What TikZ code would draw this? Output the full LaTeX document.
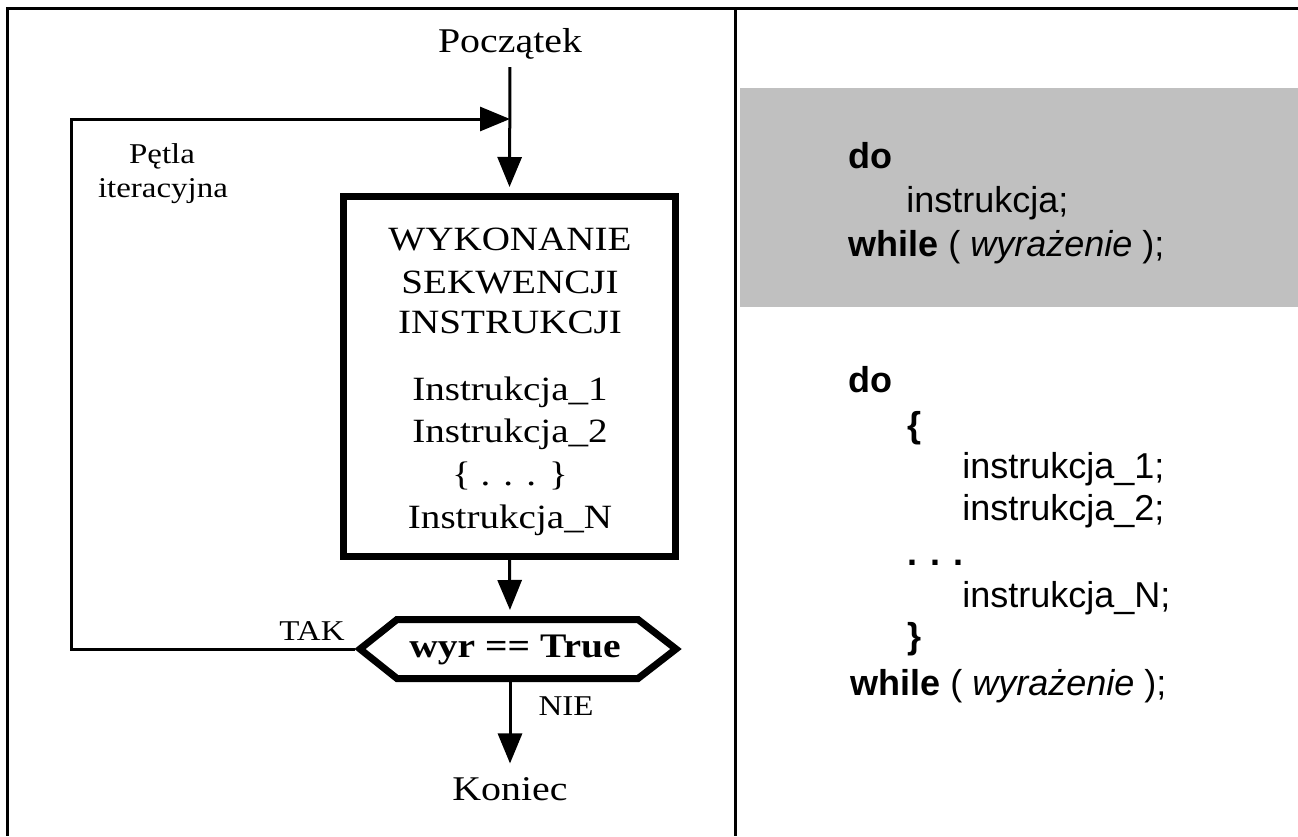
\documentclass[tikz,border=0pt]{standalone}
\usepackage{fontspec}
\setmainfont{Liberation Serif}
\newfontfamily\arialf{Liberation Sans}
\usepackage{graphicx}
\usetikzlibrary{arrows.meta}
\definecolor{codebg}{HTML}{C0C0C0}
\newcommand{\stretchx}[1]{\scalebox{1.15}[1]{#1}}
\tikzset{
  lbl/.style={anchor=base, inner sep=0pt, font=\fontsize{26}{30}\selectfont},
  boxtxt/.style={anchor=base, inner sep=0pt, font=\fontsize{25.5}{30}\selectfont},
  smalllbl/.style={anchor=base, inner sep=0pt, font=\fontsize{21.5}{26}\selectfont},
  code/.style={anchor=base west, inner sep=0pt, font=\arialf\fontsize{27}{31}\selectfont},
  conn/.style={line width=2.25pt, line join=miter, -{Triangle[length=22.5pt,width=18pt]}},
  frameline/.style={line width=2.25pt},
  bigbox/.style={draw, line width=5.25pt, minimum width=249pt, minimum height=270pt, inner sep=0pt},
  hexline/.style={line width=5.25pt, line join=miter},
}
\begin{document}
\begin{tikzpicture}[x=0.75pt,y=-0.75pt]
\useasboundingbox (0,0) rectangle (1298,836);
% grey code background
\fill[codebg] (740,88) rectangle (1298,307);
% frame
\draw[frameline] (1298,8) -- (7,8) -- (7,836);
\draw[frameline] (735,8) -- (735,836);

% flowchart
\node[lbl] (start) at (510,52) {\stretchx{Początek}};
\node[bigbox] (box) at (509.5,376.5) {};
\draw[conn, shorten <=6pt, shorten >=4.5pt] (start.south) -- (box.north);

\node[boxtxt] (t1) at (510,250) {\stretchx{WYKONANIE}};
\node[boxtxt] (t2) at (510,293) {\stretchx{SEKWENCJI}};
\node[boxtxt] (t3) at (510,333) {\stretchx{INSTRUKCJI}};
\node[boxtxt] (t4) at (510,400) {\stretchx{Instrukcja\_1}};
\node[boxtxt] (t5) at (510,442) {\stretchx{Instrukcja\_2}};
\node[boxtxt] (t6) at (510,485) {\stretchx{\{ . . . \}}};
\node[boxtxt] (t7) at (510,528) {\stretchx{Instrukcja\_N}};

% decision hexagon
\draw[hexline] (360,649) -- (397,619.5) -- (638,619.5) -- (676,649) -- (638,678.5) -- (397,678.5) -- cycle;
\coordinate (hexN) at (510,616);
\coordinate (hexS) at (510,682);
\coordinate (hexW) at (355,649);
\node[anchor=base, inner sep=0pt, font=\bfseries\fontsize{25.8}{30}\selectfont] (cond) at (515,657) {\stretchx{wyr == True}};
\draw[conn, shorten >=4.5pt] (box.south) -- (hexN);

% loop
\coordinate (loopBL) at (71,649);
\coordinate (loopTL) at (71,119);
\coordinate (join) at (510,119);
\draw[conn] (hexW) -- (loopBL) -- (loopTL) -- (join);
\node[smalllbl] (petla) at (162,163) {\stretchx{Pętla}};
\node[smalllbl] (iter) at (163,197) {\stretchx{iteracyjna}};
\node[smalllbl] (tak) at (312,640) {\stretchx{TAK}};
\node[smalllbl] (nie) at (566,715) {\stretchx{NIE}};

% exit
\node[lbl] (end) at (510,800) {\stretchx{Koniec}};
\draw[conn, shorten >=10pt] (hexS) -- (end.north);

% code on the right
\node[code] (c1) at (848,168) {\textbf{do}};
\node[code] (c2) at (906,212) {instrukcja;};
\node[code] (c3) at (848,256) {\textbf{while} ( \textit{wyrażenie} );};

\node[code] (d1) at (848,392) {\textbf{do}};
\node[code] (d2) at (907,437) {\textbf{\{}};
\node[code] (d3) at (962,478) {instrukcja\_1;};
\node[code] (d4) at (962,520) {instrukcja\_2;};
\node[code] (d5) at (907,565) {\textbf{. . .}};
\node[code] (d6) at (962,607) {instrukcja\_N;};
\node[code] (d7) at (907,648) {\textbf{\}}};
\node[code] (d8) at (850,695) {\textbf{while} ( \textit{wyrażenie} );};
\end{tikzpicture}
\end{document}
